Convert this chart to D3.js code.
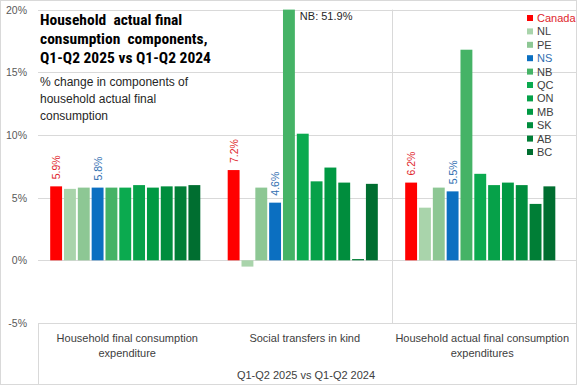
<!DOCTYPE html>
<html>
<head>
<meta charset="utf-8">
<script src="https://cdn.jsdelivr.net/npm/d3@7"></script>
<style>
  body { margin: 0; background: #fff; }
  text { font-family: "Liberation Sans", Arial, sans-serif; }
  .narrow { font-family: "Liberation Sans Narrow", "Roboto Condensed", "Liberation Sans", sans-serif; }
</style>
</head>
<body>
<svg id="plotarea"></svg>
<script>
var categories = [
    ["Household final consumption", "expenditure"],
    ["Social transfers in kind"],
    ["Household actual final consumption", "expenditures"]
];
var regions = ["Canada", "NL", "PE", "NS", "NB", "QC", "ON", "MB", "SK", "AB", "BC"];
var colours = ["#ff0000", "#a9d4ab", "#8dc794", "#0b6fc1", "#45b366", "#0baa4f", "#06a149",
               "#009943", "#008d3d", "#007e36", "#006e30"];
var hfce = [5.9, 5.7, 5.8, 5.8, 5.8, 5.8, 6.0, 5.8, 5.9, 5.9, 6.0];
var stik = [7.2, -0.5, 5.8, 4.6, 51.9, 10.1, 6.3, 7.4, 6.2, 0.1, 6.1];
var hafce = [6.2, 4.2, 5.8, 5.5, 16.8, 6.9, 6.0, 6.2, 6.0, 4.5, 5.9];
var series = [hfce, stik, hafce];
var yTicks = [-5, 0, 5, 10, 15, 20];
var labelled = ["Canada", "NS"];

var width = 577, height = 385;

var svg = d3.select("#plotarea")
    .attr("width", width)
    .attr("height", height);

// outer chart border
svg.append("rect")
    .attr("x", 0.5).attr("y", 0.5)
    .attr("width", width - 1).attr("height", height - 1)
    .attr("fill", "white")
    .attr("stroke", "#d9d9d9");

var y = d3.scaleLinear().domain([-5, 20]).range([323, 9.6]).clamp(true);

var x0 = d3.scaleBand()
    .domain(d3.range(categories.length))
    .range([36.5, 569]);

var x1 = d3.scaleBand()
    .domain(regions)
    .range([0, x0.bandwidth()])
    .paddingInner(0.14)
    .paddingOuter(0.99);

// gridlines
svg.append("g").selectAll("line")
    .data(yTicks)
    .enter()
    .append("line")
    .attr("x1", 38).attr("x2", width)
    .attr("y1", function (d) { return Math.round(y(d)) + 0.5; })
    .attr("y2", function (d) { return Math.round(y(d)) + 0.5; })
    .attr("stroke", "#d9d9d9");

// y tick labels
svg.append("g").selectAll("text")
    .data(yTicks)
    .enter()
    .append("text")
    .attr("x", 27)
    .attr("y", function (d) { return y(d) + 4; })
    .attr("text-anchor", "end")
    .attr("font-size", 10.5)
    .attr("fill", "#595959")
    .text(function (d) { return d + "%"; });

// separator line and category box
svg.append("line")
    .attr("x1", 392.5).attr("x2", 392.5)
    .attr("y1", y(20)).attr("y2", y(-5))
    .attr("stroke", "#d9d9d9");
svg.append("line")
    .attr("x1", 38.5).attr("x2", 38.5)
    .attr("y1", y(-5)).attr("y2", height)
    .attr("stroke", "#d9d9d9");

// bars
var groups = svg.append("g").selectAll("g")
    .data(series)
    .enter()
    .append("g")
    .attr("transform", function (d, i) { return "translate(" + x0(i) + ",0)"; });

groups.selectAll("rect")
    .data(function (vals) {
        return vals.map(function (v, j) { return {region: regions[j], value: v, colour: colours[j]}; });
    })
    .enter()
    .append("rect")
    .attr("x", function (d) { return x1(d.region); })
    .attr("y", function (d) { return Math.min(y(d.value), y(0)); })
    .attr("width", x1.bandwidth())
    .attr("height", function (d) { return Math.abs(y(d.value) - y(0)); })
    .attr("fill", function (d) { return d.colour; });

// rotated labels for Canada and NS
groups.selectAll("text.lbl")
    .data(function (vals) {
        return vals.map(function (v, j) { return {region: regions[j], value: v, colour: colours[j]}; })
            .filter(function (d) { return labelled.indexOf(d.region) >= 0; });
    })
    .enter()
    .append("text")
    .attr("class", "lbl")
    .attr("transform", function (d) {
        return "translate(" + (x1(d.region) + x1.bandwidth() / 2 + 4) + "," + (y(d.value) - 7) + ") rotate(-90)";
    })
    .attr("font-size", 10.5)
    .attr("fill", function (d) { return d.region === "Canada" ? "#e0262b" : "#2f6eb0"; })
    .text(function (d) { return d.value.toFixed(1) + "%"; });

// NB off-scale label
svg.append("text")
    .attr("x", x0(1) + x1("NB") + x1.bandwidth() + 5)
    .attr("y", 20)
    .attr("font-size", 11)
    .attr("fill", "#262626")
    .text("NB: " + stik[4].toFixed(1) + "%");

// category labels
categories.forEach(function (lines, i) {
    lines.forEach(function (line, k) {
        svg.append("text")
            .attr("x", x0(i) + x0.bandwidth() / 2 + 2)
            .attr("y", 342 + k * 15)
            .attr("text-anchor", "middle")
            .attr("font-size", 11)
            .attr("fill", "#404040")
            .text(line);
    });
});
svg.append("text")
    .attr("x", 306)
    .attr("y", 379)
    .attr("text-anchor", "middle")
    .attr("font-size", 11)
    .attr("fill", "#404040")
    .text("Q1-Q2 2025 vs Q1-Q2 2024");

// title and subtitle
var title = ["Household  actual final", "consumption  components,", "Q1-Q2 2025 vs Q1-Q2 2024"];
svg.append("g").selectAll("text")
    .data(title)
    .enter()
    .append("text")
    .attr("class", "narrow")
    .attr("x", 40)
    .attr("y", function (d, i) { return 25 + i * 19; })
    .attr("font-size", 15.5)
    .attr("font-weight", "bold")
    .attr("fill", "#000")
    .style("white-space", "pre")
    .text(function (d) { return d; });

var subtitle = ["% change in components of", "household actual final", "consumption"];
svg.append("g").selectAll("text")
    .data(subtitle)
    .enter()
    .append("text")
    .attr("x", 40)
    .attr("y", function (d, i) { return 86 + i * 17; })
    .attr("font-size", 12)
    .attr("fill", "#262626")
    .text(function (d) { return d; });

// legend
var legend = svg.append("g").selectAll("g")
    .data(regions)
    .enter()
    .append("g")
    .attr("transform", function (d, i) { return "translate(527," + (18 + i * 13.4) + ")"; });

legend.append("rect")
    .attr("x", 0).attr("y", -3)
    .attr("width", 6).attr("height", 6)
    .attr("fill", function (d, i) { return colours[i]; });

legend.append("text")
    .attr("x", 10)
    .attr("y", 4)
    .attr("font-size", 11)
    .attr("fill", function (d) { return d === "Canada" ? "#e0262b" : (d === "NS" ? "#2f6eb0" : "#404040"); })
    .text(function (d) { return d; });
</script>
</body>
</html>
